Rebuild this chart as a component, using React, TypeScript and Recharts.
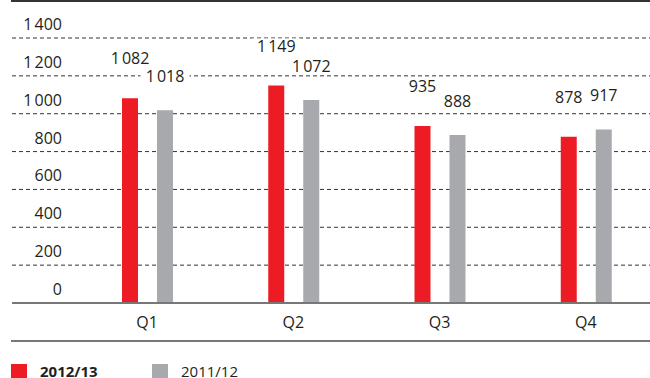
import { BarChart, Bar, XAxis, YAxis, CartesianGrid, LabelList } from 'recharts';

const quarters = ['Q1', 'Q2', 'Q3', 'Q4'];
const values2012 = [1082, 1149, 935, 878];
const values2011 = [1018, 1072, 888, 917];
const yTicks = [0, 200, 400, 600, 800, 1000, 1200, 1400];

const series = [
  { key: 'y2012', name: '2012/13', color: '#ED1C24', bold: true, lift: 34 },
  { key: 'y2011', name: '2011/12', color: '#A7A9AC', bold: false, lift: 28 },
];

const data = quarters.map((q, i) => ({ q, y2012: values2012[i], y2011: values2011[i] }));

const FONT = '"Open Sans", "DejaVu Sans", sans-serif';
const TEXT = '#231F20';

// 1 400 style numbers with a narrow space
const fmt = (v: number) => {
  const s = String(v);
  return s.length > 3 ? s.slice(0, s.length - 3) + '\u202F' + s.slice(-3) : s;
};

const renderYTick = (props: any) => {
  const { y, payload } = props;
  return (
    <text x={62} y={Number(y) - 8} textAnchor="end" fontSize={16} fill={TEXT} fontFamily={FONT}>
      {fmt(payload.value)}
    </text>
  );
};

const makeLabel = (lift: number) => (props: any) => {
  const { x, y, width, value } = props;
  const cx = Number(x) + Number(width) / 2;
  const base = Number(y) - lift;
  const text = fmt(Number(value));
  const w = text.length * 9;
  return (
    <g>
      <rect x={cx - w / 2 - 2} y={base - 13} width={w + 4} height={15} fill="#fff" />
      <text x={cx} y={base} textAnchor="middle" fontSize={16} fill={TEXT} fontFamily={FONT}>
        {text}
      </text>
    </g>
  );
};

export default function App() {
  return (
    <div
      style={{
        position: 'absolute',
        left: 0,
        top: 0,
        width: 650,
        height: 378,
        overflow: 'hidden',
        background: '#fff',
        fontFamily: FONT,
      }}
    >
      <div style={{ position: 'absolute', left: 11, right: 0, top: 0, height: 2, background: '#333' }} />
      <BarChart
        width={660}
        height={341}
        data={data}
        margin={{ top: 38, right: 0, left: 11, bottom: 0 }}
        barSize={16}
        barGap={19}
      >
        <CartesianGrid vertical={false} stroke="#333" strokeDasharray="4 3" />
        <YAxis
          width={1}
          domain={[0, 1400]}
          ticks={yTicks}
          interval={0}
          axisLine={false}
          tickLine={false}
          tick={renderYTick}
        />
        <XAxis
          dataKey="q"
          height={38}
          padding={{ left: 62, right: 1 }}
          axisLine={{ stroke: '#777', strokeWidth: 2 }}
          tickLine={false}
          tickMargin={8}
          tick={{ fontSize: 16, fill: TEXT, fontFamily: FONT }}
        />
        {series.map((s) => (
          <Bar key={s.key} dataKey={s.key} name={s.name} fill={s.color} isAnimationActive={false}>
            <LabelList dataKey={s.key} content={makeLabel(s.lift)} />
          </Bar>
        ))}
      </BarChart>
      <div style={{ position: 'absolute', left: 11, right: 0, top: 340, height: 2, background: '#777' }} />
      <div style={{ position: 'absolute', left: 11, top: 364, display: 'flex', alignItems: 'flex-start' }}>
        {series.map((s) => (
          <div key={s.key} style={{ display: 'flex', alignItems: 'center', width: 141 }}>
            <div style={{ width: 16, height: 14, background: s.color, marginRight: 13 }} />
            <div
              style={{
                fontSize: 15,
                fontWeight: s.bold ? 700 : 400,
                color: TEXT,
                lineHeight: '12px',
                height: 12,
              }}
            >
              {s.name}
            </div>
          </div>
        ))}
      </div>
    </div>
  );
}
